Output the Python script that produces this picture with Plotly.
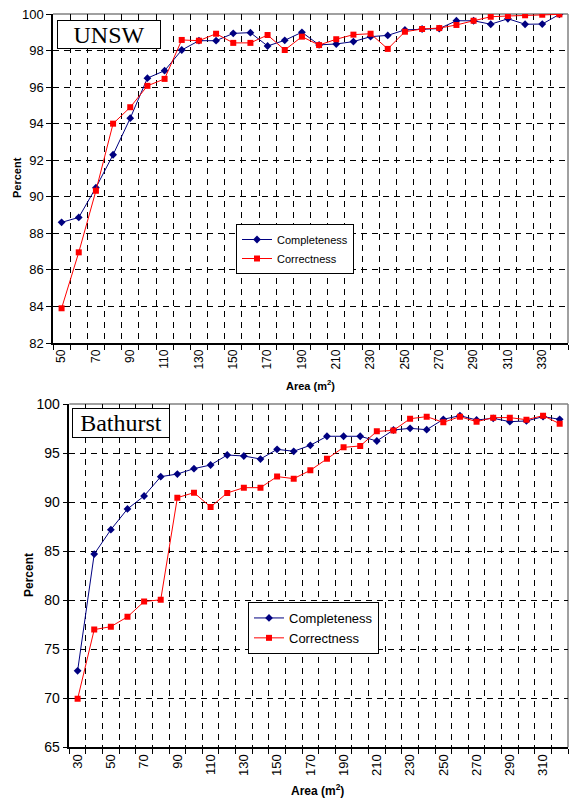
import plotly.graph_objects as go

# ---------------- data ----------------
unsw_area = list(range(50, 341, 10))
unsw_completeness = [88.6, 88.87, 90.5, 92.3, 94.3, 96.49, 96.9, 98.03, 98.54, 98.54,
                     98.94, 98.98, 98.25, 98.56, 99.0, 98.31, 98.36, 98.49, 98.76, 98.83,
                     99.13, 99.18, 99.2, 99.63, 99.63, 99.44, 99.74, 99.44, 99.45, 99.98]
unsw_correctness = [83.9, 86.96, 90.33, 94.0, 94.9, 96.07, 96.45, 98.58, 98.54, 98.92,
                    98.42, 98.42, 98.85, 98.03, 98.76, 98.3, 98.62, 98.87, 98.92, 98.09,
                    99.03, 99.18, 99.23, 99.4, 99.63, 99.85, 99.89, 99.93, 99.96, 99.98]

bath_area = list(range(30, 321, 10))
bath_completeness = [72.8, 84.7, 87.19, 89.3, 90.62, 92.59, 92.86, 93.41, 93.78, 94.8,
                     94.7, 94.39, 95.38, 95.18, 95.79, 96.71, 96.71, 96.71, 96.23, 97.35,
                     97.52, 97.38, 98.44, 98.81, 98.37, 98.54, 98.2, 98.27, 98.71, 98.44]
bath_correctness = [69.94, 77.0, 77.3, 78.3, 79.86, 80.04, 90.45, 90.96, 89.5, 90.93,
                    91.47, 91.47, 92.6, 92.39, 93.24, 94.43, 95.58, 95.72, 97.21, 97.31,
                    98.5, 98.71, 98.13, 98.71, 98.2, 98.61, 98.61, 98.4, 98.81, 97.99]

unsw_ticks = list(range(50, 331, 20))
bath_ticks = list(range(30, 311, 20))

W, H = 573, 801
FONT = "Liberation Sans, Arial, sans-serif"
BLUE = "#000080"
RED = "#FF0000"

def px_x(p):
    return p / W

def px_y(p):
    return 1 - p / H

# plot-area pixel boxes
top_box = (53, 568, 14, 343)
bot_box = (69.3, 568, 404, 747.3)

fig = go.Figure()

fig.add_trace(go.Scatter(x=unsw_area, y=unsw_completeness, name="Completeness",
                         mode="lines+markers", line=dict(color=BLUE, width=1),
                         marker=dict(symbol="diamond", size=6, color=BLUE),
                         xaxis="x", yaxis="y", legend="legend"))
fig.add_trace(go.Scatter(x=unsw_area, y=unsw_correctness, name="Correctness",
                         mode="lines+markers", line=dict(color=RED, width=1),
                         marker=dict(symbol="square", size=6, color=RED),
                         xaxis="x", yaxis="y", legend="legend"))
fig.add_trace(go.Scatter(x=bath_area, y=bath_completeness, name="Completeness",
                         mode="lines+markers", line=dict(color=BLUE, width=1),
                         marker=dict(symbol="diamond", size=6, color=BLUE),
                         xaxis="x2", yaxis="y2", legend="legend2"))
fig.add_trace(go.Scatter(x=bath_area, y=bath_correctness, name="Correctness",
                         mode="lines+markers", line=dict(color=RED, width=1),
                         marker=dict(symbol="square", size=6, color=RED),
                         xaxis="x2", yaxis="y2", legend="legend2"))

DASH = "6px,5px"

def xaxis(box, rng, ticks, anchor, fsize):
    return dict(
        domain=[px_x(box[0]), px_x(box[1])], anchor=anchor, range=rng,
        tickmode="array", tickvals=ticks, ticktext=[str(t) for t in ticks],
        tickangle=-90, ticks="", showgrid=False, zeroline=False,
        showline=True, linecolor="black", linewidth=1.5,
        tickfont=dict(family=FONT, size=fsize, color="black"),
        minor=dict(tick0=rng[0] + 10, dtick=10, showgrid=True, gridcolor="black",
                   griddash=DASH, gridwidth=1, ticks="outside", ticklen=5,
                   tickcolor="black", tickwidth=1),
        automargin=False, fixedrange=True,
    )

def yaxis(box, rng, dtick, anchor, fsize):
    return dict(
        domain=[px_y(box[3]), px_y(box[2])], anchor=anchor, range=rng,
        tick0=rng[0], dtick=dtick, ticks="outside", ticklen=5, tickcolor="black",
        showgrid=True, gridcolor="black", griddash=DASH, gridwidth=1,
        zeroline=False, showline=True, linecolor="black", linewidth=1.5,
        tickfont=dict(family=FONT, size=fsize, color="black"),
        automargin=False, fixedrange=True,
    )

fig.update_layout(
    width=W, height=H, margin=dict(l=0, r=0, t=0, b=0),
    paper_bgcolor="white", plot_bgcolor="white",
    font=dict(family=FONT, color="black"),
    xaxis=xaxis(top_box, [45, 345], unsw_ticks, "y", 12),
    yaxis=yaxis(top_box, [82, 100], 2, "x", 13),
    xaxis2=xaxis(bot_box, [25, 325], bath_ticks, "y2", 13),
    yaxis2=yaxis(bot_box, [65, 100], 5, "x2", 14),
    legend=dict(x=px_x(236), y=px_y(224), xanchor="left", yanchor="top",
                bordercolor="black", borderwidth=1, bgcolor="white",
                font=dict(family=FONT, size=11, color="black"),
                tracegroupgap=0, itemwidth=30),
    legend2=dict(x=px_x(248), y=px_y(602), xanchor="left", yanchor="top",
                 bordercolor="black", borderwidth=1, bgcolor="white",
                 font=dict(family=FONT, size=13, color="black"),
                 tracegroupgap=0, itemwidth=30),
    showlegend=True,
    hovermode=False,
)

shapes = []
for b in (top_box, bot_box):
    shapes.append(dict(type="line", xref="paper", yref="paper",
                       x0=px_x(b[0]), x1=px_x(b[1]), y0=px_y(b[2]), y1=px_y(b[2]),
                       line=dict(color="#808080", width=1.5), layer="below"))
    shapes.append(dict(type="line", xref="paper", yref="paper",
                       x0=px_x(b[1]), x1=px_x(b[1]), y0=px_y(b[2]), y1=px_y(b[3]),
                       line=dict(color="#808080", width=1.5), layer="below"))
fig.update_layout(shapes=shapes)

annotations = [
    dict(text="UNSW", xref="paper", yref="paper", x=px_x(57), y=px_y(20),
         xanchor="left", yanchor="top", showarrow=False, width=100, height=25,
         bordercolor="black", borderwidth=1, bgcolor="white",
         font=dict(family="Liberation Serif, Times New Roman, serif", size=24, color="black")),
    dict(text="Bathurst", xref="paper", yref="paper", x=px_x(72), y=px_y(408),
         xanchor="left", yanchor="top", showarrow=False, width=94, height=26,
         bordercolor="black", borderwidth=1, bgcolor="white",
         font=dict(family="Liberation Serif, Times New Roman, serif", size=24, color="black")),
    dict(text="<b>Percent</b>", xref="paper", yref="paper", x=px_x(17), y=px_y(178),
         xanchor="center", yanchor="middle",
         textangle=-90, showarrow=False, font=dict(family=FONT, size=11, color="black")),
    dict(text="<b>Percent</b>", xref="paper", yref="paper", x=px_x(29), y=px_y(575),
         xanchor="center", yanchor="middle",
         textangle=-90, showarrow=False, font=dict(family=FONT, size=12, color="black")),
    dict(text="<b>Area (m<sup>2</sup>)</b>", xref="paper", yref="paper", x=px_x(310), y=px_y(385),
         xanchor="center", yanchor="middle",
         showarrow=False, font=dict(family=FONT, size=11, color="black")),
    dict(text="<b>Area (m<sup>2</sup>)</b>", xref="paper", yref="paper", x=px_x(317), y=px_y(790),
         xanchor="center", yanchor="middle",
         showarrow=False, font=dict(family=FONT, size=12, color="black")),
]
fig.update_layout(annotations=annotations)

fig.write_html("out.html", config={"displayModeBar": False},
               post_script="document.body.style.margin='0';document.body.style.overflow='hidden';")
